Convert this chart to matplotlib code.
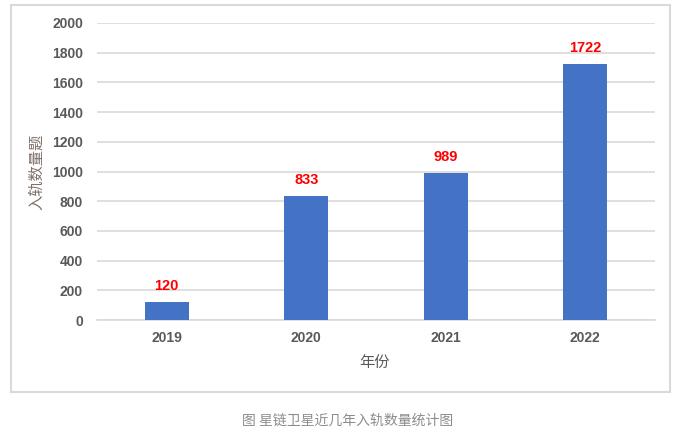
import matplotlib
matplotlib.use("Agg")
import matplotlib.pyplot as plt
from matplotlib.patches import Rectangle

plt.rcParams['font.family'] = ['Liberation Sans', 'Noto Sans CJK SC', 'DejaVu Sans']

years = ["2019", "2020", "2021", "2022"]
counts = [120, 833, 989, 1722]
yticks = [0, 200, 400, 600, 800, 1000, 1200, 1400, 1600, 1800, 2000]

W, H = 679, 432
fig = plt.figure(figsize=(W / 100, H / 100), dpi=100)
fig.patch.set_facecolor("white")

# outer frame
fig.patches.append(Rectangle((11 / W, 1 - 392 / H), (670 - 11) / W, (392 - 5) / H,
                             transform=fig.transFigure, fill=False,
                             edgecolor="#d9d9d9", linewidth=1.5))

ax = fig.add_axes([97 / W, 1 - 320 / H, (655 - 97) / W, (320 - 23) / H])
x = range(len(years))
ax.bar(x, counts, width=0.315, color="#4472c4", zorder=3)
for xi, v in zip(x, counts):
    ax.text(xi, v + 60, str(v), ha="center", va="bottom", color="#ff0000",
            fontsize=10.5, fontweight="bold")

ax.set_xlim(-0.5, 3.5)
ax.set_ylim(0, 2000)
ax.set_yticks(yticks)
ax.set_xticks(list(x))
ax.set_xticklabels(years)
ax.grid(axis="y", color="#d9d9d9", linewidth=1.2, zorder=0)
for s in ["top", "right", "left"]:
    ax.spines[s].set_visible(False)
ax.spines["bottom"].set_color("#d9d9d9")
ax.spines["bottom"].set_linewidth(1.2)
ax.tick_params(axis="both", length=0, labelcolor="#595959", labelsize=10)
ax.tick_params(axis="y", pad=10)
ax.tick_params(axis="x", pad=8)
for lab in ax.get_xticklabels() + ax.get_yticklabels():
    lab.set_fontweight("bold")

fig.text(37 / W, 1 - 172 / H, "入轨数量题", rotation=90, ha="center", va="center",
         color="#7f6f6a", fontsize=11, family=['Noto Sans CJK SC', 'DejaVu Sans'])
fig.text(375 / W, 1 - 362 / H, "年份", ha="center", va="center",
         color="#595959", fontsize=11, family=['Noto Sans CJK SC', 'DejaVu Sans'])
fig.text(348 / W, 1 - 421 / H, "图 星链卫星近几年入轨数量统计图", ha="center", va="center",
         color="#8c8c8c", fontsize=10, family=['Noto Sans CJK SC', 'DejaVu Sans'])

fig.savefig("out.png", dpi=100)
